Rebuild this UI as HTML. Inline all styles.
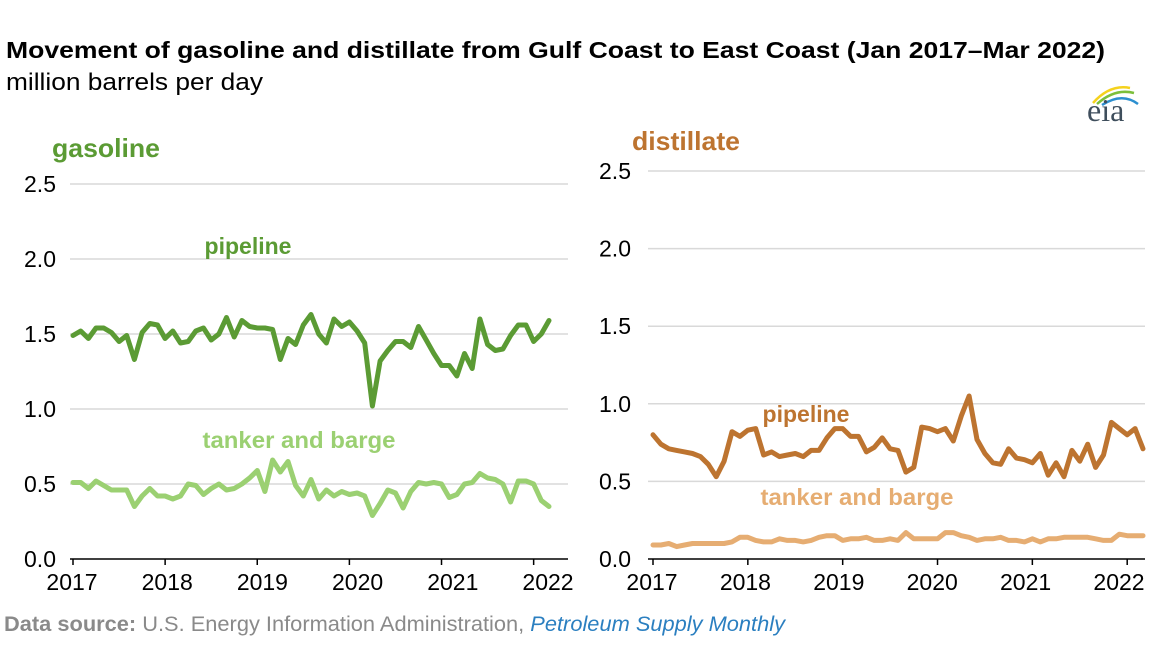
<!DOCTYPE html>
<html><head><meta charset="utf-8"><style>
body{margin:0;background:#fff;}
svg text{font-family:"Liberation Sans",sans-serif;}
</style></head><body>
<svg id="c" width="1168" height="642" viewBox="0 0 1168 642" xmlns="http://www.w3.org/2000/svg">
<text x="6" y="58" font-size="23" font-weight="bold" fill="#000" textLength="1099" lengthAdjust="spacingAndGlyphs">Movement of gasoline and distillate from Gulf Coast to East Coast (Jan 2017–Mar 2022)</text>
<text x="6" y="90" font-size="24" fill="#000" textLength="257" lengthAdjust="spacingAndGlyphs">million barrels per day</text>
<g>
<path d="M1093 103 Q1110 84 1130 88" stroke="#f5d21d" stroke-width="2.5" fill="none"/>
<path d="M1097 104 Q1115 88 1134 93" stroke="#7cbf3b" stroke-width="2.5" fill="none"/>
<path d="M1102 105 Q1122 92 1138 104" stroke="#2c8fd0" stroke-width="2.5" fill="none"/>
<text x="1087" y="121" font-size="32" fill="#3f4e5c" style="font-family:'Liberation Serif',serif">eia</text>
</g>
<text x="52" y="157" font-size="26" font-weight="bold" fill="#5b9b34" textLength="108" lengthAdjust="spacingAndGlyphs">gasoline</text>
<text x="632" y="150" font-size="26" font-weight="bold" fill="#bd7430" textLength="108" lengthAdjust="spacingAndGlyphs">distillate</text>
<g id="L"></g>
<g id="R"></g>
<text x="248" y="254" font-size="23" font-weight="bold" fill="#5b9b34" text-anchor="middle">pipeline</text>
<text x="299" y="448" font-size="23" font-weight="bold" fill="#9bd072" text-anchor="middle" textLength="193" lengthAdjust="spacingAndGlyphs">tanker and barge</text>
<text x="806" y="422" font-size="23" font-weight="bold" fill="#bd7430" text-anchor="middle">pipeline</text>
<text x="857" y="505" font-size="23" font-weight="bold" fill="#e6ad72" text-anchor="middle" textLength="193" lengthAdjust="spacingAndGlyphs">tanker and barge</text>
<text x="4" y="631" font-size="21" fill="#8a8a8a" textLength="781" lengthAdjust="spacingAndGlyphs"><tspan font-weight="bold">Data source:</tspan> U.S. Energy Information Administration, <tspan fill="#2b7fc0" font-style="italic">Petroleum Supply Monthly</tspan></text>
</svg>
<script>
const yTicks=[0,0.5,1,1.5,2,2.5];
const yTickLabels=["0.0","0.5","1.0","1.5","2.0","2.5"];
const yearLabels=["2017","2018","2019","2020","2021","2022"];
const gasPipeline=[1.49,1.52,1.47,1.54,1.54,1.51,1.45,1.49,1.33,1.51,1.57,1.56,1.47,1.52,1.44,1.45,1.52,1.54,1.46,1.50,1.61,1.48,1.59,1.55,1.54,1.54,1.53,1.33,1.47,1.43,1.56,1.63,1.50,1.44,1.60,1.55,1.58,1.52,1.44,1.02,1.32,1.39,1.45,1.45,1.41,1.55,1.46,1.37,1.29,1.29,1.22,1.37,1.27,1.60,1.43,1.39,1.40,1.49,1.56,1.56,1.45,1.50,1.59];
const gasTanker=[0.51,0.51,0.47,0.52,0.49,0.46,0.46,0.46,0.35,0.42,0.47,0.42,0.42,0.40,0.42,0.50,0.49,0.43,0.47,0.50,0.46,0.47,0.50,0.54,0.59,0.45,0.66,0.58,0.65,0.49,0.42,0.53,0.40,0.46,0.42,0.45,0.43,0.44,0.42,0.29,0.37,0.46,0.44,0.34,0.45,0.51,0.50,0.51,0.50,0.41,0.43,0.50,0.51,0.57,0.54,0.53,0.50,0.38,0.52,0.52,0.50,0.39,0.35];
const distPipeline=[0.80,0.74,0.71,0.70,0.69,0.68,0.66,0.61,0.53,0.63,0.82,0.79,0.83,0.84,0.67,0.69,0.66,0.67,0.68,0.66,0.70,0.70,0.78,0.84,0.84,0.79,0.79,0.69,0.72,0.78,0.71,0.70,0.56,0.59,0.85,0.84,0.82,0.84,0.76,0.92,1.05,0.77,0.68,0.62,0.61,0.71,0.65,0.64,0.62,0.68,0.54,0.62,0.53,0.70,0.63,0.74,0.59,0.67,0.88,0.84,0.80,0.84,0.71];
const distTanker=[0.09,0.09,0.10,0.08,0.09,0.10,0.10,0.10,0.10,0.10,0.11,0.14,0.14,0.12,0.11,0.11,0.13,0.12,0.12,0.11,0.12,0.14,0.15,0.15,0.12,0.13,0.13,0.14,0.12,0.12,0.13,0.12,0.17,0.13,0.13,0.13,0.13,0.17,0.17,0.15,0.14,0.12,0.13,0.13,0.14,0.12,0.12,0.11,0.13,0.11,0.13,0.13,0.14,0.14,0.14,0.14,0.13,0.12,0.12,0.16,0.15,0.15,0.15];
const NS="http://www.w3.org/2000/svg";
function mk(tag,attrs,parent){const e=document.createElementNS(NS,tag);for(const k in attrs)e.setAttribute(k,attrs[k]);parent.appendChild(e);return e;}
function panel(g,P,series){
  const y=v=>P.y0-v/2.5*(P.y0-P.yTop);
  const x=i=>P.x0+i*(P.x1-P.x0)/62;
  yTicks.forEach((t,k)=>{
    if(k>0){const ln=mk('line',{x1:P.gx0,x2:P.gx1,y1:y(t),y2:y(t),stroke:'#d9d9d9','stroke-width':1.5},g);
    
    }
    const tx=mk('text',{x:P.lx,y:y(t)+8,'font-size':23,'text-anchor':'end',fill:'#000'},g);
    tx.textContent=yTickLabels[k];
    
    
  });
  const ax=mk('line',{x1:P.gx0,x2:P.gx1,y1:P.y0,y2:P.y0,stroke:'#000','stroke-width':1.5},g);
  
  
  yearLabels.forEach((l,k)=>{
    const xx=P.x0+k*12*(P.x1-P.x0)/62;
    const tk=mk('line',{x1:xx,x2:xx,y1:P.y0,y2:P.y0+6,stroke:'#000','stroke-width':1.5},g);
    
    
    const t=mk('text',{x:P.lab0+k*P.labStep,y:P.y0+31,'font-size':23,'text-anchor':'middle',fill:'#000'},g);
    t.textContent=l;
    
    
  });
  series.forEach(s=>{
    const p=mk('path',{d:s.data.map((v,i)=>(i?'L':'M')+x(i).toFixed(1)+' '+y(v).toFixed(1)).join(' '),fill:'none',stroke:s.color,'stroke-width':5,'stroke-linejoin':'round','stroke-linecap':'round'},g);
    
    
  });
}
panel(document.getElementById('L'),{x0:73,x1:549,y0:559,yTop:184,gx0:70,gx1:568,lx:56,lab0:72,labStep:95.2},
  [{data:gasTanker,color:'#9bd072',name:'gasoline-tanker-line'},{data:gasPipeline,color:'#5b9b34',name:'gasoline-pipeline-line'}]);
panel(document.getElementById('R'),{x0:653,x1:1143,y0:559,yTop:171,gx0:648,gx1:1145,lx:631,lab0:652,labStep:93.4},
  [{data:distTanker,color:'#e6ad72',name:'distillate-tanker-line'},{data:distPipeline,color:'#bd7430',name:'distillate-pipeline-line'}]);
</script>
</body></html>
